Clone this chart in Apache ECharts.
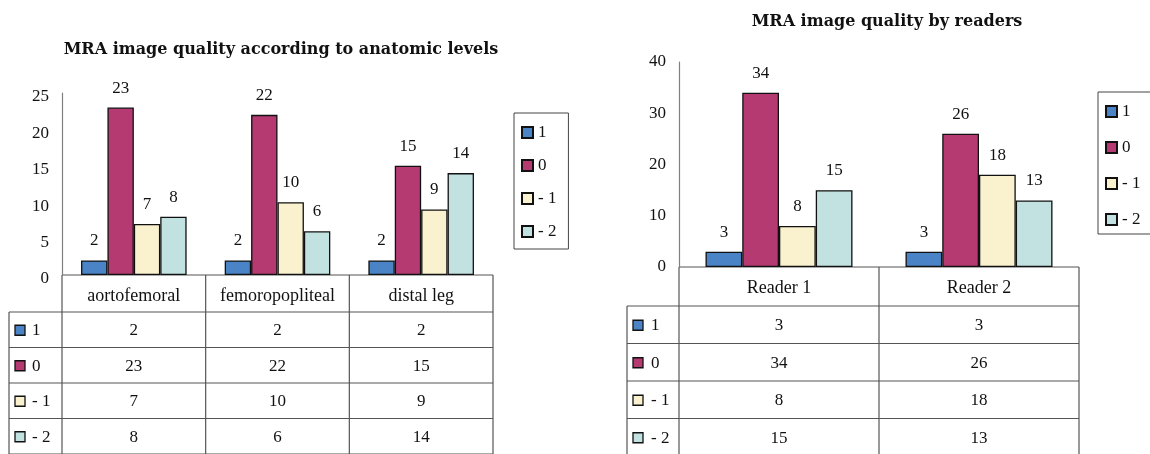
<!DOCTYPE html>
<html>
<head>
<meta charset="utf-8">
<script src="https://cdn.jsdelivr.net/npm/echarts@6/dist/echarts.min.js"></script>
<style>
  html, body { margin: 0; padding: 0; background: #fff; }
  #main { width: 1150px; height: 454px; }
</style>
</head>
<body>
<div id="main"></div>
<script>
// grades shown in legend / table rows
const gradeNames = ['1', '0', '- 1', '- 2']
const gradeColors = ['#4a84c6', '#b53a72', '#faf1cf', '#c2e2e1']

// chart 1: by anatomic level
const levelCats = ['aortofemoral', 'femoropopliteal', 'distal leg']
const levelG1 = [2, 2, 2]
const levelG0 = [23, 22, 15]
const levelGm1 = [7, 10, 9]
const levelGm2 = [8, 6, 14]

// chart 2: by reader
const readerCats = ['Reader 1', 'Reader 2']
const readerG1 = [3, 3]
const readerG0 = [34, 26]
const readerGm1 = [8, 18]
const readerGm2 = [15, 13]

const levelSeries = [levelG1, levelG0, levelGm1, levelGm2]
const readerSeries = [readerG1, readerG0, readerGm1, readerGm2]

const FONT = '"Liberation Serif", "Times New Roman", serif'
const FS = 17

// layout of the two plot areas (table hangs below each)
const grids = [
  { left: 62, top: 93, width: 431, height: 182, headH: 37, rowH: 35.5, colW: 53, txtX: 23, cats: levelCats, data: levelSeries },
  { left: 679, top: 62, width: 400, height: 205, headH: 39, rowH: 37.5, colW: 52, txtX: 24, cats: readerCats, data: readerSeries }
]

const chart = echarts.init(document.getElementById('main'))

function makeSeries(gi, data) {
  return data.map((vals, k) => ({
    name: gradeNames[k],
    type: 'bar',
    xAxisIndex: gi,
    yAxisIndex: gi,
    barGap: 0,
    barCategoryGap: '26.5%',
    data: vals,
    itemStyle: { color: gradeColors[k], borderColor: '#111', borderWidth: 1.3 },
    label: {
      show: true,
      position: 'top',
      distance: 11,
      fontFamily: FONT,
      fontSize: FS,
      color: '#111'
    }
  }))
}

function buildTable(g) {
  const els = []
  const line = '#555'
  const x0 = g.left - g.colW
  const x1 = g.left
  const x2 = g.left + g.width
  const yTop = g.top + g.height
  const yHead = yTop + g.headH
  const yBot = yHead + g.rowH * gradeNames.length
  const n = g.cats.length
  const cw = g.width / n

  const addLine = (ax, ay, bx, by) => els.push({
    type: 'line', silent: true,
    shape: { x1: ax, y1: ay, x2: bx, y2: by },
    style: { stroke: line, lineWidth: 1.2 }
  })

  // header top line + column borders
  addLine(x1, yTop, x2, yTop)
  for (let i = 0; i <= n; i++) addLine(x1 + i * cw, yTop, x1 + i * cw, yBot)
  addLine(x0, yHead, x0, yBot)
  for (let r = 0; r <= gradeNames.length; r++) {
    addLine(x0, yHead + r * g.rowH, x2, yHead + r * g.rowH)
  }

  gradeNames.forEach((name, r) => {
    const cy = yHead + r * g.rowH + g.rowH / 2
    els.push({
      type: 'rect', silent: true,
      shape: { x: x0 + 6, y: cy - 4.5, width: 10, height: 10 },
      style: { fill: gradeColors[r], stroke: '#111', lineWidth: 1.3 }
    })
    els.push({
      type: 'text', silent: true,
      x: x0 + g.txtX, y: cy + 1,
      style: { text: name, font: FS + 'px ' + FONT, fill: '#111', textVerticalAlign: 'middle' }
    })
    g.data[r].forEach((v, c) => {
      els.push({
        type: 'text', silent: true,
        x: x1 + c * cw + cw / 2, y: cy + 1,
        style: { text: String(v), font: FS + 'px ' + FONT, fill: '#111', textAlign: 'center', textVerticalAlign: 'middle' }
      })
    })
  })
  return els
}

const titleStyle = { fontFamily: '"DejaVu Serif", serif', fontSize: 16, fontWeight: 'bold', color: '#111' }

const option = {
  animation: false,
  title: [
    { text: 'MRA image quality according to anatomic levels', left: 276, top: 37, textAlign: 'center', textStyle: titleStyle },
    { text: 'MRA image quality by readers', left: 882, top: 9, textAlign: 'center', textStyle: titleStyle }
  ],
  legend: [
    {
      orient: 'vertical', left: 514, top: 113,
      data: gradeNames,
      icon: 'rect', itemWidth: 11, itemHeight: 11, itemGap: 16,
      borderColor: '#444', borderWidth: 1,
      padding: [11, 12, 9, 7],
      textStyle: { fontFamily: FONT, fontSize: FS, color: '#111' },
      selectedMode: false
    },
    {
      orient: 'vertical', left: 1098, top: 92,
      data: gradeNames,
      icon: 'rect', itemWidth: 11, itemHeight: 11, itemGap: 19,
      borderColor: '#444', borderWidth: 1,
      padding: [11, 40, 6, 7],
      textStyle: { fontFamily: FONT, fontSize: FS, color: '#111' },
      selectedMode: false
    }
  ],
  grid: grids.map(g => ({ left: g.left, top: g.top, width: g.width, height: g.height })),
  xAxis: grids.map((g, i) => ({
    type: 'category',
    gridIndex: i,
    data: g.cats,
    axisLine: { show: false },
    axisTick: { show: false },
    axisLabel: { interval: 0, margin: 12, fontFamily: FONT, fontSize: 18, color: '#111' }
  })),
  yAxis: [
    { type: 'value', gridIndex: 0, min: 0, max: 25, interval: 5, axisLabel: { verticalAlign: 'top', lineHeight: 8 } },
    { type: 'value', gridIndex: 1, min: 0, max: 40, interval: 10, axisLabel: {} }
  ].map(a => Object.assign(a, {
    splitLine: { show: false },
    axisTick: { show: false },
    axisLine: { show: true, lineStyle: { color: '#808080', width: 1.2 } },
    axisLabel: Object.assign(a.axisLabel, { margin: 13, fontFamily: FONT, fontSize: FS, color: '#111' })
  })),
  series: [...makeSeries(0, levelSeries), ...makeSeries(1, readerSeries)],
  graphic: [...buildTable(grids[0]), ...buildTable(grids[1])]
}

chart.setOption(option)
</script>
</body>
</html>
